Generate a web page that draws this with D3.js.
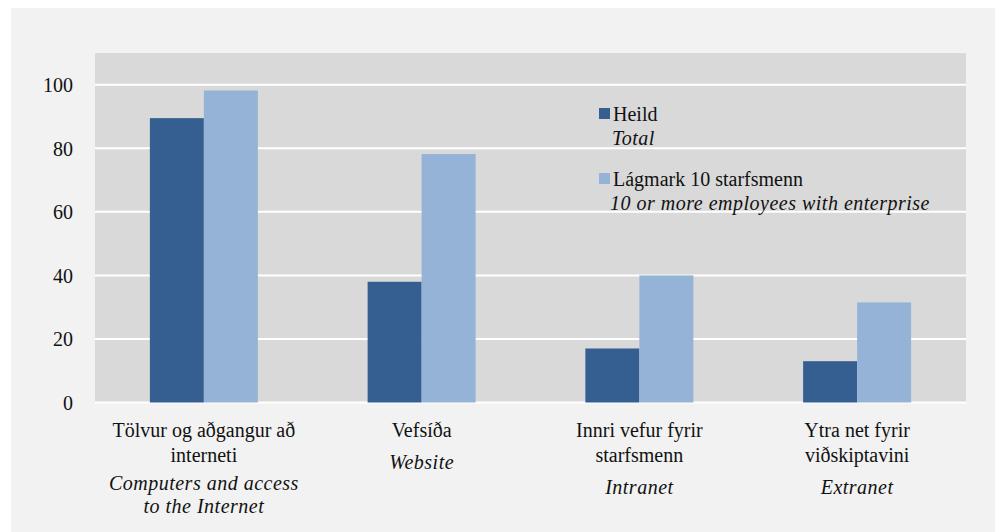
<!DOCTYPE html>
<html>
<head>
<meta charset="utf-8">
<script src="https://cdn.jsdelivr.net/npm/d3@7"></script>
<style>
  html body svg#chart text, html body svg#chart tspan { font-family: "Liberation Serif", serif !important; }
</style>
</head>
<body style="margin:0">
<svg id="chart"></svg>
<script>
var svg_width = 1000;
var svg_height = 532;
var FONT = "Liberation Serif";

// DATA
var categories = ["c1", "c2", "c3", "c4"];
var labelsIs = [["Tölvur og aðgangur að", "interneti"], ["Vefsíða"], ["Innri vefur fyrir", "starfsmenn"], ["Ytra net fyrir", "viðskiptavini"]];
var labelsEn = [["Computers and access", "to the Internet"], ["Website"], ["Intranet"], ["Extranet"]];
var seriesNames = ["Heild", "Lágmark 10 starfsmenn"];
var seriesNamesEn = ["Total", "10 or more employees with enterprise"];
var totalValues = [89.5, 38, 17, 13];
var tenPlusValues = [98.2, 78.2, 40, 31.5];
var yTicks = [0, 20, 40, 60, 80, 100];
var colors = ["#355f91", "#95b3d7"];

var plot = { left: 95, right: 966, top: 53, bottom: 402.5 };

var svg = d3.select("svg")
    .attr("width", svg_width)
    .attr("height", svg_height);

// outer background
svg.append("rect")
    .attr("x", 11).attr("y", 8)
    .attr("width", 984).attr("height", 524)
    .attr("fill", "#f2f2f2");

// SCALES
var xScale = d3.scaleBand()
    .domain(categories)
    .range([plot.left, plot.right]);

var xSub = d3.scaleBand()
    .domain([0, 1])
    .range([-54, 54]);

var yScale = d3.scaleLinear()
    .domain([0, 110])
    .range([plot.bottom, plot.top]);

// plot area
svg.append("rect")
    .attr("x", plot.left).attr("y", plot.top)
    .attr("width", plot.right - plot.left).attr("height", plot.bottom - plot.top)
    .attr("fill", "#d9d9d9");

// gridlines
svg.append("g")
    .selectAll("line")
    .data(yTicks)
    .enter()
    .append("line")
      .attr("x1", plot.left)
      .attr("x2", plot.right)
      .attr("y1", function(d) { return yScale(d); })
      .attr("y2", function(d) { return yScale(d); })
      .attr("stroke", "#ffffff")
      .attr("stroke-width", 2);

// bars
var rows = categories.map(function(c, i) {
    return { cat: c, values: [totalValues[i], tenPlusValues[i]] };
});

svg.append("g")
    .selectAll("g")
    .data(rows)
    .enter()
    .append("g")
      .attr("transform", function(d) { return "translate(" + (xScale(d.cat) + xScale.bandwidth() / 2) + ",0)"; })
    .selectAll("rect")
    .data(function(d) { return d.values; })
    .enter()
    .append("rect")
      .attr("x", function(d, i) { return xSub(i); })
      .attr("width", xSub.bandwidth())
      .attr("y", function(d) { return yScale(d); })
      .attr("height", function(d) { return yScale(0) - yScale(d); })
      .attr("fill", function(d, i) { return colors[i]; });

// Y AXIS
var yAxis = d3.axisLeft(yScale)
    .tickValues(yTicks)
    .tickSize(0)
    .tickPadding(22);

var yG = svg.append("g")
    .attr("transform", "translate(" + plot.left + ",0)")
    .call(yAxis)
    .attr("font-family", FONT)
    .attr("font-size", 20);
yG.select(".domain").remove();
yG.selectAll("text")
    .attr("fill", "#111")
    .attr("dy", "0.34em");

// X LABELS
var xl = svg.append("g")
    .attr("font-family", FONT)
    .attr("font-size", 20)
    .attr("fill", "#111")
    .selectAll("text")
    .data(categories)
    .enter()
    .append("text")
      .attr("text-anchor", "middle");

xl.each(function(c, i) {
    var t = d3.select(this);
    var cx = xScale(c) + xScale.bandwidth() / 2;
    var y = 436.5;
    labelsIs[i].forEach(function(line, j) {
        t.append("tspan").attr("x", cx).attr("y", y + j * 25.5).text(line);
    });
    var yEn = y + (labelsIs[i].length - 1) * 25.5 + (labelsIs[i].length > 1 && labelsEn[i].length > 1 ? 28 : 32);
    labelsEn[i].forEach(function(line, j) {
        t.append("tspan").attr("x", cx).attr("y", yEn + j * 23)
            .attr("font-style", "italic")
            .attr("letter-spacing", 0.5)
            .text(line);
    });
});

// LEGEND
var legend = svg.append("g")
    .attr("font-family", FONT)
    .attr("font-size", 20)
    .attr("fill", "#111")
    .selectAll("g")
    .data(seriesNames)
    .enter()
    .append("g")
      .attr("transform", function(d, i) { return "translate(599," + (108 + i * 65) + ")"; });

legend.append("rect")
    .attr("width", 11).attr("height", 11)
    .attr("fill", function(d, i) { return colors[i]; });

legend.append("text")
    .attr("x", 14).attr("y", 12.5)
    .text(function(d) { return d; });

legend.append("text")
    .attr("x", function(d, i) { return i === 0 ? 13 : 11; })
    .attr("y", 36.5)
    .attr("font-style", "italic")
    .attr("letter-spacing", 0.5)
    .text(function(d, i) { return seriesNamesEn[i]; });

svg.selectAll("text").style("font-family", "'Liberation Serif', serif", "important");
</script>
</body>
</html>
